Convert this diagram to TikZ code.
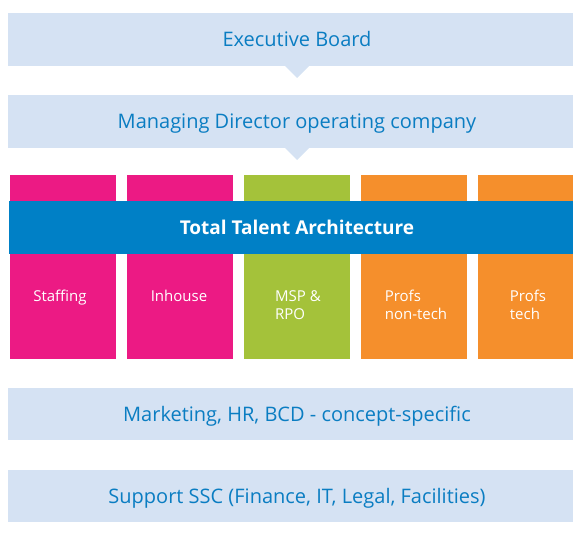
\documentclass[tikz,border=0pt]{standalone}
\usepackage{fontspec}
\setmainfont{Open Sans}
\definecolor{bandbg}{HTML}{D5E2F3}
\definecolor{bandtxt}{HTML}{0A7DC2}
\definecolor{pinkc}{HTML}{EC1A84}
\definecolor{greenc}{HTML}{A4C23A}
\definecolor{orangec}{HTML}{F58F2C}
\definecolor{ttablue}{HTML}{0080C6}
\begin{document}
\begin{tikzpicture}[x=1pt,y=-1pt,
  band/.style={fill=bandbg,draw=none},
  bandlabel/.style={text=bandtxt,font=\fontsize{20}{24}\selectfont,inner sep=0pt,anchor=base},
  collabel/.style={text=white,font=\fontsize{15}{17.5}\selectfont,align=left,anchor=base,inner sep=0pt}]
\useasboundingbox (0,0) rectangle (573,535);
% top bands
\fill[band] (8,13) rectangle (573,66);
\fill[band] (285,66) -- (297,78) -- (309,66) -- cycle;
\node[bandlabel] (eb) at (297,46.7) {Executive Board};
\fill[band] (8,95) rectangle (573,148);
\fill[band] (285,148) -- (297,160) -- (309,148) -- cycle;
\node[bandlabel] (md) at (297,128.3) {Managing Director operating company};
% columns
\fill[pinkc] (10,175) rectangle (116,359);
\fill[pinkc] (127,175) rectangle (233,359);
\fill[greenc] (244,175) rectangle (350,359);
\fill[orangec] (361,175) rectangle (467,359);
\fill[orangec] (478,175) rectangle (573,359);
% TTA band
\fill[ttablue] (9,201) rectangle (573,254);
\node[text=white,font=\bfseries\fontsize{19}{22}\selectfont,inner sep=0pt,anchor=base] (tta) at (297,234) {Total Talent Architecture};
% column labels
\node[collabel] (s) at (60,301.7) {Staffing};
\node[collabel] (i) at (179,301.7) {Inhouse};
\node[collabel] (m) at (298,319.2) {MSP \&\\RPO};
\node[collabel] (p1) at (416,319.2) {Profs\\non-tech};
\node[collabel] (p2) at (528,319.2) {Profs\\tech};
% bottom bands
\fill[band] (8,388) rectangle (573,440);
\node[bandlabel] (mk) at (297,421) {Marketing, HR, BCD - concept-specific};
\fill[band] (8,470) rectangle (573,522);
\node[bandlabel] (sp) at (297,503.3) {Support SSC (Finance, IT, Legal, Facilities)};
\end{tikzpicture}
\end{document}
